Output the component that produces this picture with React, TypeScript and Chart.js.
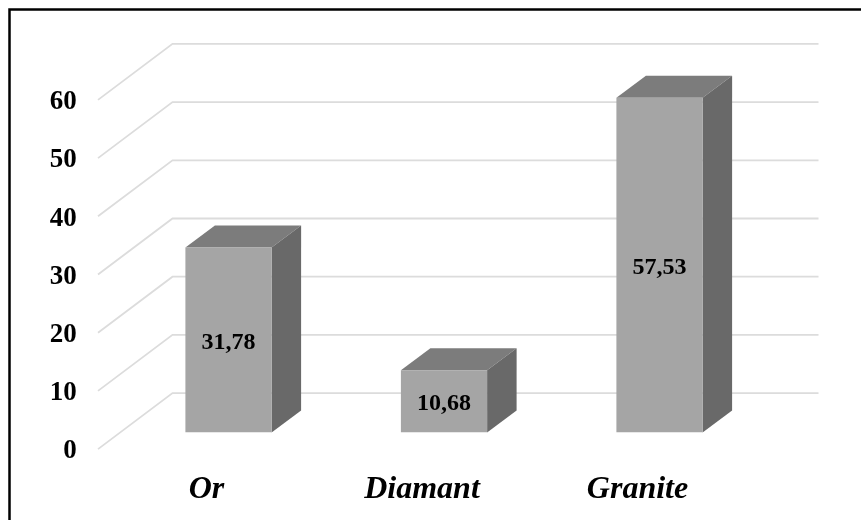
import React, { useEffect, useRef } from "react";
import { Chart, registerables } from "chart.js";

Chart.register(...registerables);

const categories = ["Or", "Diamant", "Granite"];
const values = [31.78, 10.68, 57.53];

const SERIF = '"Liberation Serif", "Times New Roman", serif';
const GRID = "#dcdcdc";
const FRONT = "#a5a5a5";
const TOP = "#7c7c7c";
const SIDE = "#696969";

// 3D projection offsets, in pixels
const DEPTH_X = 29.5;
const DEPTH_Y = 22;
const BACK_DY = 39.4;
const WALL_LEFT = 172.5;
const WALL_RIGHT = 818.5;
const WALL_DX = 74.5;
const WALL_DY = 56;

const depthPlugin = {
  id: "depth",
  beforeDraw(chart: any) {
    const c = chart.ctx;
    c.save();
    c.strokeStyle = "#000";
    c.lineWidth = 2.5;
    c.beginPath();
    c.moveTo(9.5, 520);
    c.lineTo(9.5, 9.5);
    c.lineTo(861, 9.5);
    c.stroke();
    c.restore();
  },
  beforeDatasetsDraw(chart: any) {
    const c = chart.ctx;
    const y = chart.scales.y;
    c.save();
    c.strokeStyle = GRID;
    c.lineWidth = 1.8;
    y.ticks.forEach((t: any) => {
      const py = y.getPixelForValue(t.value) - BACK_DY;
      c.beginPath();
      c.moveTo(WALL_LEFT - WALL_DX, py + WALL_DY);
      c.lineTo(WALL_LEFT, py);
      c.lineTo(WALL_RIGHT, py);
      c.stroke();
    });
    chart.getDatasetMeta(0).data.forEach((bar: any) => {
      const l = bar.x - bar.width / 2;
      const r = bar.x + bar.width / 2;
      c.fillStyle = TOP;
      c.beginPath();
      c.moveTo(l, bar.y);
      c.lineTo(l + DEPTH_X, bar.y - DEPTH_Y);
      c.lineTo(r + DEPTH_X, bar.y - DEPTH_Y);
      c.lineTo(r, bar.y);
      c.closePath();
      c.fill();
      c.fillStyle = SIDE;
      c.beginPath();
      c.moveTo(r, bar.y);
      c.lineTo(r + DEPTH_X, bar.y - DEPTH_Y);
      c.lineTo(r + DEPTH_X, bar.base - DEPTH_Y);
      c.lineTo(r, bar.base);
      c.closePath();
      c.fill();
    });
    c.restore();
  },
  afterDatasetsDraw(chart: any) {
    const c = chart.ctx;
    c.save();
    c.fillStyle = "#000";
    c.font = `bold 24px ${SERIF}`;
    c.textAlign = "center";
    c.textBaseline = "middle";
    chart.getDatasetMeta(0).data.forEach((bar: any, i: number) => {
      c.fillText(values[i].toFixed(2).replace(".", ","), bar.x, (bar.y + bar.base) / 2 + 2.5);
    });
    c.restore();
  },
};

export default function App() {
  const ref = useRef<HTMLCanvasElement | null>(null);
  useEffect(() => {
    const chart = new Chart(ref.current as HTMLCanvasElement, {
      type: "bar",
      data: {
        labels: categories,
        datasets: [
          {
            data: values,
            backgroundColor: FRONT,
            barPercentage: 0.4,
            categoryPercentage: 1,
          },
        ],
      },
      options: {
        responsive: false,
        animation: false,
        devicePixelRatio: 1,
        layout: { padding: { left: 0, right: 93.75, top: 83.3, bottom: 0 } },
        plugins: { legend: { display: false }, tooltip: { enabled: false } },
        scales: {
          x: {
            grid: { display: false },
            border: { display: false },
            afterFit(s: any) {
              s.height = 87.5;
            },
            ticks: {
              color: "#000",
              font: { family: SERIF, size: 32, weight: "bold", style: "italic" },
              labelOffset: -22,
              padding: 30,
              maxRotation: 0,
            },
          },
          y: {
            min: 0,
            max: 60,
            grid: { display: false },
            border: { display: false },
            afterFit(s: any) {
              s.width = 120.75;
            },
            ticks: {
              stepSize: 10,
              color: "#000",
              font: { family: SERIF, size: 27, weight: "bold" },
              labelOffset: 19,
              padding: 36,
            },
          },
        },
      } as any,
      plugins: [depthPlugin],
    });
    return () => chart.destroy();
  }, []);
  return (
    <div style={{ position: "absolute", left: 0, top: 0, width: 861, height: 520, background: "#fff" }}>
      <canvas ref={ref} width={861} height={520} style={{ display: "block" }} />
    </div>
  );
}
